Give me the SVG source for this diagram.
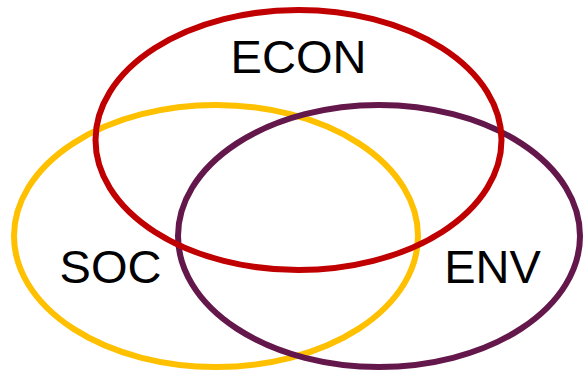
<svg xmlns="http://www.w3.org/2000/svg" width="583" height="371" viewBox="0 0 583 371">
<style>
.e{fill:none;stroke-width:6}
.t{font-family:"Liberation Sans",Arial,sans-serif;font-size:47px;fill:#000;text-anchor:middle}
</style>
<rect width="583" height="371" fill="#fff"/>
<g id="soc"><ellipse class="e" cx="216" cy="236" rx="202" ry="131" stroke="#FFC000"/><text class="t" x="110.5" y="283">SOC</text></g>
<g id="env"><ellipse class="e" cx="379" cy="236" rx="201" ry="131" stroke="#64174B"/><text class="t" x="492.5" y="283">ENV</text></g>
<g id="econ"><ellipse class="e" cx="298.5" cy="140" rx="203" ry="130" stroke="#C00000"/><text class="t" x="298.5" y="73">ECON</text></g>
<g id="connectors"/>
</svg>
